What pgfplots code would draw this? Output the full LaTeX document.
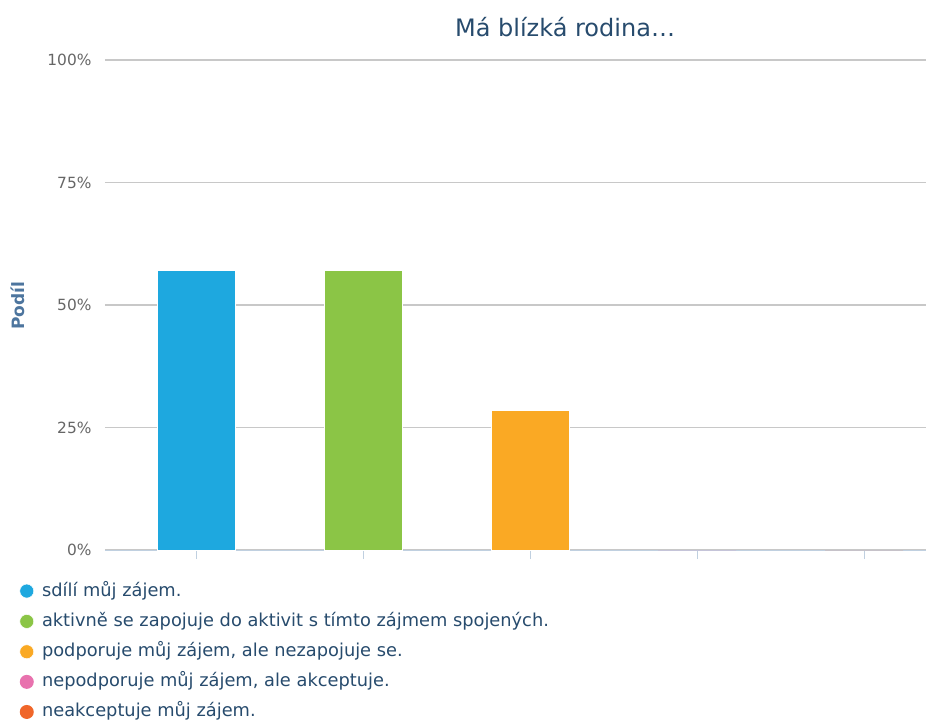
\documentclass[border=0pt]{standalone}
\usepackage{pgfplots}
\pgfplotsset{compat=1.18}
\usepackage{fontspec}
\setmainfont{DejaVu Sans}
\definecolor{cBlue}{HTML}{1EA8DF}
\definecolor{cGreen}{HTML}{8BC546}
\definecolor{cOrange}{HTML}{FAA924}
\definecolor{cPink}{HTML}{E872AE}
\definecolor{cRed}{HTML}{F0662A}
\definecolor{titleC}{HTML}{274B6D}
\definecolor{ylabC}{HTML}{4D759E}
\definecolor{tickC}{HTML}{666666}
\definecolor{gridC}{HTML}{C8C8C8}
\definecolor{axisC}{HTML}{C0D0E0}
\begin{document}
\begin{tikzpicture}
\useasboundingbox (-105pt,-170pt) rectangle (821pt,550pt);
\begin{axis}[
  at={(0pt,0pt)}, anchor=south west,
  scale only axis, width=821pt, height=490pt,
  xmin=-0.545, xmax=4.37, ymin=0, ymax=100,
  ybar, bar width=78pt, bar shift=0pt,
  axis lines*=left,
  x axis line style={draw=axisC, line width=1pt, -},
  y axis line style={draw=none},
  xtick={0,1,2,3,4}, xticklabels={},
  major tick length=9pt,
  xtick style={draw=axisC, line width=1pt},
  tick align=outside,
  ytick={0,25,50,75,100},
  yticklabels={0\%,25\%,50\%,75\%,100\%},
  ytick style={draw=none},
  ymajorgrids, grid style={draw=gridC, line width=1.3pt},
  yticklabel style={font=\fontsize{15.4}{17}\selectfont, text=tickC, xshift=-1pt},
  legend style={at={(-0.108,-0.0645)}, anchor=north west, draw=none, fill=none,
    font=\fontsize{17.8}{19}\selectfont, text=titleC,
    nodes={inner sep=0pt, text height=12pt, text depth=4pt, anchor=west},
    row sep=14.1pt, column sep=8pt},
  legend cell align=left,
  legend image code/.code={\fill[#1] (6pt,1pt) circle (7pt);},
]
\addplot[fill=cBlue, draw=white, line width=0.5pt] coordinates {(0,57.14)};
\addlegendentry{sdílí můj zájem.}
\addplot[fill=cGreen, draw=white, line width=0.5pt] coordinates {(1,57.14)};
\addlegendentry{aktivně se zapojuje do aktivit s tímto zájmem spojených.}
\addplot[fill=cOrange, draw=white, line width=0.5pt] coordinates {(2,28.57)};
\addlegendentry{podporuje můj zájem, ale nezapojuje se.}
\addplot[fill=cPink, draw=none] coordinates {(3,0)};
\addlegendentry{nepodporuje můj zájem, ale akceptuje.}
\addplot[fill=cRed, draw=none] coordinates {(4,0)};
\addlegendentry{neakceptuje můj zájem.}
\end{axis}
\node[text=titleC, font=\fontsize{24}{26}\selectfont] at (460pt,523pt) {Má blízká rodina…};
\node[text=ylabC, font=\bfseries\fontsize{17}{19}\selectfont, rotate=90] at (-87pt,244pt) {Podíl};
\end{tikzpicture}
\end{document}
